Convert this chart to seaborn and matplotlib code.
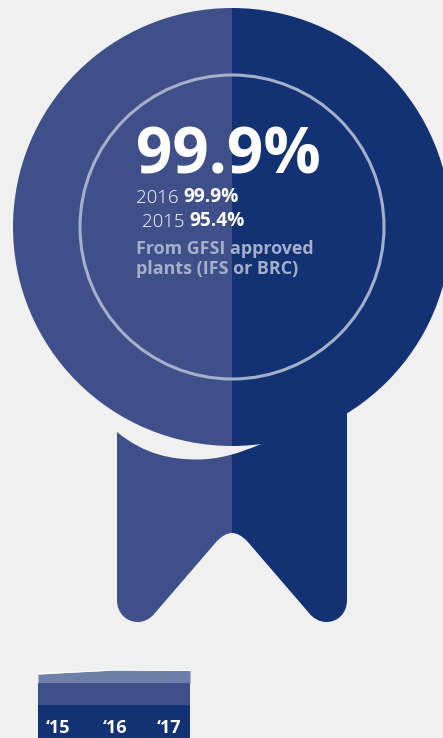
import matplotlib
matplotlib.use("Agg")
import matplotlib.pyplot as plt
import numpy as np
import pandas as pd
import seaborn as sns
from matplotlib.patches import Circle, PathPatch, Rectangle
from matplotlib.path import Path

# Trend strip data: stacked band heights per year
years = [2015, 2016, 2017]
year_labels = ["\u201815", "\u201816", "\u201817"]
base_band = [33, 33, 33]
middle_band = [22, 22, 22]
top_band = [9.0, 13.0, 12.5]

headline = "99.9%"
year_rows = [("2016 ", "99.9%"), ("2015 ", "95.4%")]
source_note = "From GFSI approved\nplants (IFS or BRC)"

BG = "#f0f0f0"
LEFT = "#3f4f8a"
RIGHT = "#133273"
RING = "#a6afca"
BAND = "#6d80a9"

sns.set_theme(style="white", rc={"figure.facecolor": BG, "axes.facecolor": BG})
plt.rcParams["font.family"] = ["Open Sans", "DejaVu Sans"]

W, H = 443, 738
fig = plt.figure(figsize=(W / 100, H / 100), dpi=100)
ax = fig.add_axes([0, 0, 1, 1])
ax.set_xlim(0, W)
ax.set_ylim(H, 0)
ax.axis("off")

# Rosette outline: ribbon tail below a large disc
CX, CY, R = 232, 227, 219
M, L, C = Path.MOVETO, Path.LINETO, Path.CURVE4
ribbon_vertices = [
    (117, 432), (145, 455), (172, 459.5), (197, 459.5),
    (220, 459.5), (240, 453), (261, 444),
    (300, 420), (347, 410), (347, 600),
    (347, 613), (338, 622), (326.5, 622),
    (319, 622), (313, 618), (309, 613),
    (247, 541),
    (242, 536), (237, 533), (232, 533),
    (227, 533), (222, 536), (217, 541),
    (155, 613),
    (151, 618), (145, 622), (138, 622),
    (126, 622), (117, 613), (117, 600),
    (117, 432),
]
ribbon_codes = [M, C, C, C, C, C, C, L, L, L, C, C, C, C, C, C, L, C, C, C, C, C, C, L,
                C, C, C, C, C, C, L]
ribbon = Path(ribbon_vertices, ribbon_codes)

for color, x0, x1 in [(LEFT, 0, CX), (RIGHT, CX, W)]:
    clip = Rectangle((x0, 0), x1 - x0, H, transform=ax.transData)
    for patch in (PathPatch(ribbon, fc=color, ec="none"),
                  Circle((CX, CY), R, fc=color, ec="none")):
        ax.add_patch(patch)
        patch.set_clip_path(clip)

ax.add_patch(Circle((CX, CY), 152, fc="none", ec=RING, lw=2.2))

# Headline figures
ax.text(136, 174, headline, color="white", fontsize=46, fontweight="bold",
        va="baseline", ha="left")

for (year, value), x, y in zip(year_rows, [136, 142], [203, 227]):
    label = ax.text(x, y, year, color="white", fontsize=13.4, fontweight="light",
                    va="baseline", ha="left")
    ax.annotate(value, xy=(1, 0), xycoords=label, color="white", fontsize=13.8,
                fontweight="bold", va="bottom", ha="left",
                annotation_clip=False)

note_lines = source_note.split("\n")
ax.text(136, 254, note_lines[0], color=RING, fontsize=12.9,
        fontweight="bold", va="baseline", ha="left")
ax.text(136, 274, note_lines[1], color=RING, fontsize=12.9,
        fontweight="bold", va="baseline", ha="left")

# Trend strip along the bottom edge
strip = fig.add_axes([38 / W, 0, 152 / W, 68 / H])
strip.patch.set_alpha(0)
frame = pd.DataFrame({"year": years, "base": base_band,
                      "middle": middle_band, "top": top_band})
base_top = frame["base"]
middle_top = base_top + frame["middle"]
upper_top = middle_top + frame["top"]
strip.fill_between(frame["year"], middle_top, upper_top, color=BAND, lw=0)
strip.fill_between(frame["year"], base_top, middle_top, color=LEFT, lw=0)
strip.fill_between(frame["year"], 0, base_top, color=RIGHT, lw=0)
sns.lineplot(x=frame["year"], y=upper_top, color="white", lw=0.8, ax=strip, legend=False)
strip.set_xlim(2015, 2017)
strip.set_ylim(0, 68)
strip.axis("off")

for label, x in zip(year_labels, [58, 115.5, 169.5]):
    ax.text(x, 733, label, color="white", fontsize=13, fontweight="bold",
            ha="center", va="baseline", zorder=5)
ax.set_zorder(2)
ax.patch.set_alpha(0)

fig.savefig("out.png", dpi=100, facecolor=BG)
